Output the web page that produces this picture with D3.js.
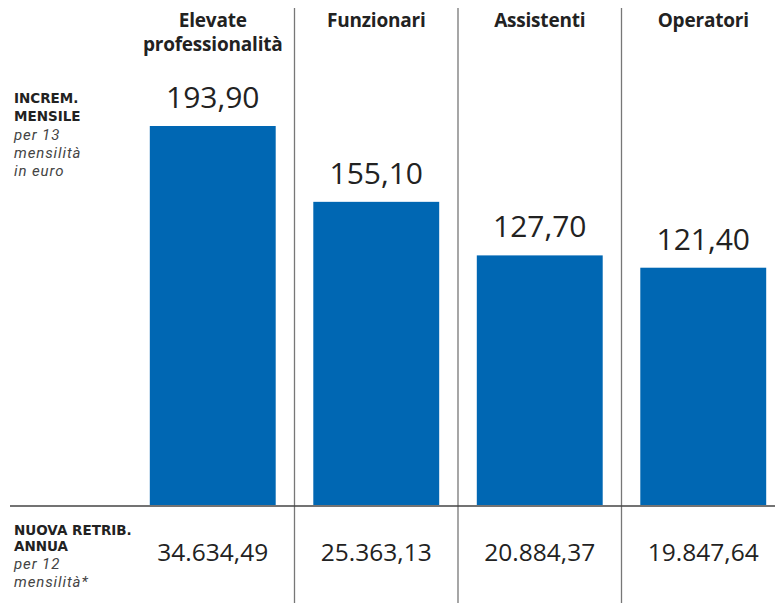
<!DOCTYPE html>
<html>
<head>
<meta charset="utf-8">
<script src="https://cdn.jsdelivr.net/npm/d3@7"></script>
<style>
  body { margin: 0; background: #fff; }
  svg text { fill: #222; }
</style>
</head>
<body>
<div id="chart"></div>
<script>
// categorie e valori
var categories = [["Elevate", "professionalità"], ["Funzionari"], ["Assistenti"], ["Operatori"]]
var increments = [193.90, 155.10, 127.70, 121.40]
var annual = [34634.49, 25363.13, 20884.37, 19847.64]

var W = 775, H = 603
var baseY = 505

var svg = d3.select("#chart").append("svg")
    .attr("width", W)
    .attr("height", H)

var x = d3.scaleBand()
    .domain(d3.range(categories.length))
    .range([131, 785])
    .paddingInner(0.23)
    .paddingOuter(0.115)

var y = d3.scaleLinear()
    .domain([0, 193.9])
    .range([baseY, 126])

var itNum = d3.formatLocale({ decimal: ",", thousands: ".", grouping: [3], currency: ["", "€"] })
var fmt2 = itNum.format(",.2f")

var blue = "#0067b3"
var headFont = "'Open Sans', sans-serif"
var sideFont = "'DejaVu Sans', sans-serif"
var numFont = "'Open Sans', sans-serif"

// separatori verticali
var seps = d3.range(1, categories.length)
svg.selectAll(".sep")
    .data(seps)
    .enter().append("line")
    .attr("x1", function(d) { return x(d) - (x.step() - x.bandwidth()) / 2 })
    .attr("x2", function(d) { return x(d) - (x.step() - x.bandwidth()) / 2 })
    .attr("y1", 8)
    .attr("y2", H)
    .attr("stroke", "#777")
    .attr("stroke-width", 1.3)

// barre
svg.selectAll(".bar")
    .data(increments)
    .enter().append("rect")
    .attr("x", function(d, i) { return x(i) })
    .attr("y", function(d) { return y(d) })
    .attr("width", x.bandwidth())
    .attr("height", function(d) { return baseY - y(d) })
    .attr("fill", blue)

// valori sopra le barre
svg.selectAll(".val")
    .data(increments)
    .enter().append("text")
    .attr("x", function(d, i) { return x(i) + x.bandwidth() / 2 })
    .attr("y", function(d) { return y(d) - 18 })
    .attr("text-anchor", "middle")
    .style("font-family", numFont)
    .style("font-size", "30px")
    .text(function(d) { return fmt2(d) })

// nomi categorie
categories.forEach(function(lines, i) {
    lines.forEach(function(l, j) {
        svg.append("text")
            .attr("x", x(i) + x.bandwidth() / 2)
            .attr("y", 27 + j * 24)
            .attr("text-anchor", "middle")
            .style("font-family", headFont)
            .style("font-weight", "700")
            .style("font-size", "19px")
            .style("letter-spacing", "-0.2px")
            .text(l)
    })
})

// linea di base
svg.append("line")
    .attr("x1", 10).attr("x2", W)
    .attr("y1", baseY + 1).attr("y2", baseY + 1)
    .attr("stroke", "#444")
    .attr("stroke-width", 1.6)

// retribuzione annua
svg.selectAll(".ann")
    .data(annual)
    .enter().append("text")
    .attr("x", function(d, i) { return x(i) + x.bandwidth() / 2 })
    .attr("y", 561)
    .attr("text-anchor", "middle")
    .style("font-family", numFont)
    .style("font-size", "24.5px")
    .text(function(d) { return fmt2(d) })

// etichette a sinistra
function sideLabel(items) {
    items.forEach(function(t) {
        svg.append("text")
            .attr("x", 14)
            .attr("y", t.y)
            .style("font-family", t.bold ? sideFont : "Roboto, sans-serif")
            .style("font-weight", t.bold ? "700" : "400")
            .style("font-style", t.bold ? "normal" : "italic")
            .style("font-size", t.bold ? "13.5px" : "15px")
            .style("letter-spacing", t.bold ? "0px" : "0.9px")
            .style("fill", t.bold ? "#222" : "#444")
            .text(t.text)
    })
}

sideLabel([
    { text: "INCREM.", bold: true, y: 103 },
    { text: "MENSILE", bold: true, y: 121 },
    { text: "per 13", bold: false, y: 140 },
    { text: "mensilità", bold: false, y: 158 },
    { text: "in euro", bold: false, y: 176 }
])

sideLabel([
    { text: "NUOVA RETRIB.", bold: true, y: 535 },
    { text: "ANNUA", bold: true, y: 551 },
    { text: "per 12", bold: false, y: 569 },
    { text: "mensilità*", bold: false, y: 587 }
])
</script>
</body>
</html>
